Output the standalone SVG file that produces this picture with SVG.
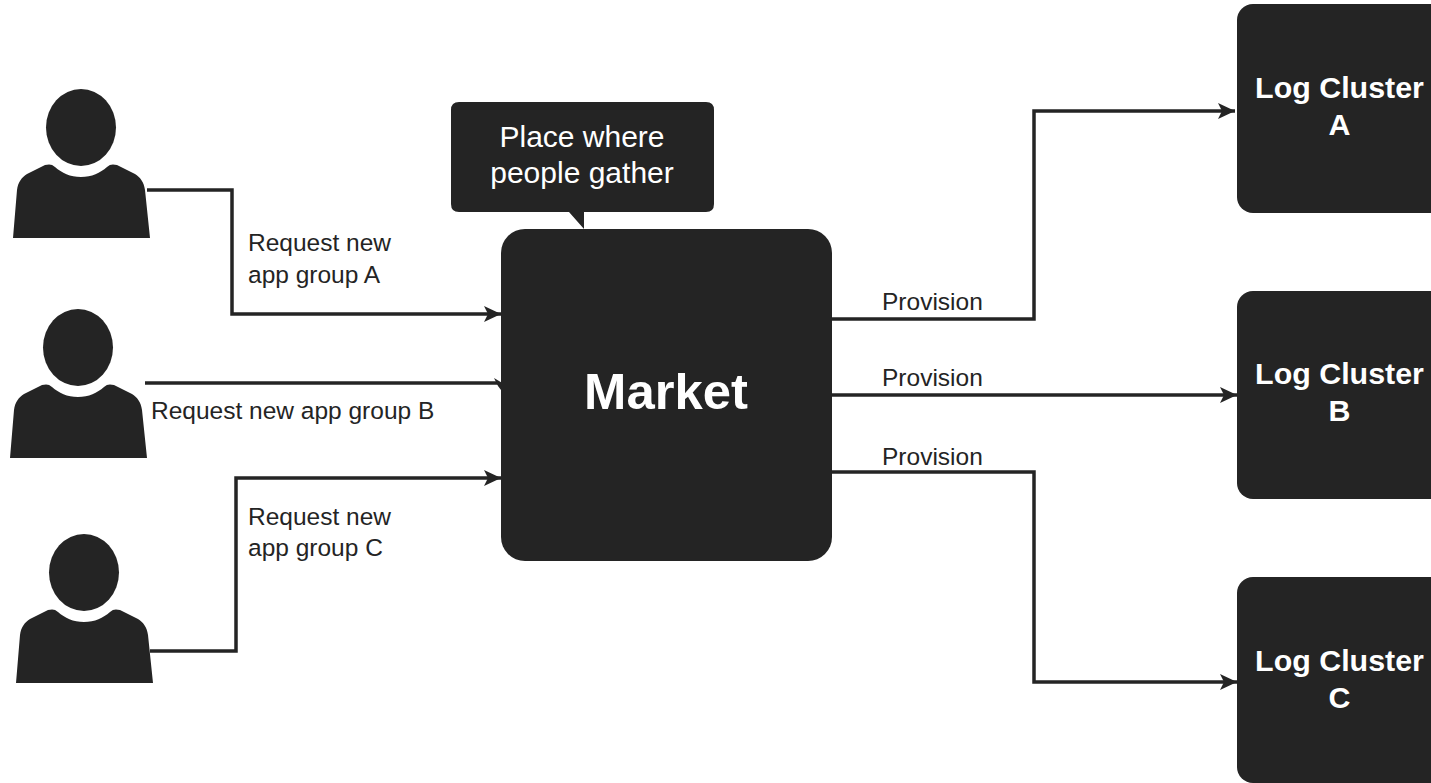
<svg xmlns="http://www.w3.org/2000/svg" width="1431" height="783" viewBox="0 0 1431 783">
<style>
text{font-family:"Liberation Sans",Arial,sans-serif}
.n{fill:#242424}
.c{fill:none;stroke:#242424;stroke-width:3.5}
.lb{font-size:24.5px;fill:#242424}
.cl{font-size:30.4px;font-weight:bold;fill:#fff;text-anchor:middle}
.ct{font-size:30px;fill:#fff;text-anchor:middle}
</style>
<defs>
<marker id="a" markerUnits="userSpaceOnUse" markerWidth="20" markerHeight="18" refX="17" refY="8" orient="auto"><path d="M0 0L17 8L0 16L4 8Z" fill="#242424"/></marker>
<g id="p"><ellipse cx="81" cy="127.5" rx="35" ry="38.5"/><path d="M13 238L17 190C18 182 22 177 27 174L45 165C49 164 52 164 55 167C62 173 70 177 81 177C92 177 100 173 107 167C110 164 113 164 117 165L135 174C140 177 144 182 145 190L150 238Z"/></g>
</defs>
<g id="connectors">
<path class="c" d="M147 190H232V314H501" marker-end="url(#a)"/>
<path class="c" d="M145 383H499"/>
<path d="M494 378L504 384V394L498 386Z" class="n"/>
<path class="c" d="M150 651H236V478H501" marker-end="url(#a)"/>
<path class="c" d="M832 319H1034V111H1235" marker-end="url(#a)"/>
<path class="c" d="M832 395H1237" marker-end="url(#a)"/>
<path class="c" d="M832 472H1034V682H1237" marker-end="url(#a)"/>
</g>
<g id="user-a" class="n"><use href="#p"/></g>
<g id="user-b" class="n"><use href="#p" x="-3" y="220"/></g>
<g id="user-c" class="n"><use href="#p" x="3" y="445"/></g>
<g id="callout"><path class="n" d="M459 102H706Q714 102 714 110V204Q714 212 706 212H584V229L569 212H459Q451 212 451 204V110Q451 102 459 102Z"/>
<text class="ct" x="582" y="147">Place where</text>
<text class="ct" x="582" y="183">people gather</text></g>
<g id="market"><rect class="n" x="501" y="229" width="331" height="332" rx="24"/>
<text x="666" y="409" font-size="50.8" font-weight="bold" fill="#fff" text-anchor="middle">Market</text></g>
<g id="cluster-a"><rect class="n" x="1237" y="4" width="220" height="209" rx="16"/><text class="cl" x="1339.5" y="98">Log Cluster</text><text class="cl" x="1339.5" y="135">A</text></g>
<g id="cluster-b"><rect class="n" x="1237" y="291" width="220" height="208" rx="16"/><text class="cl" x="1339.5" y="384">Log Cluster</text><text class="cl" x="1339.5" y="421">B</text></g>
<g id="cluster-c"><rect class="n" x="1237" y="577" width="220" height="206" rx="16"/><text class="cl" x="1339.5" y="671">Log Cluster</text><text class="cl" x="1339.5" y="708">C</text></g>
<g id="labels">
<text class="lb" x="248" y="251">Request new</text><text class="lb" x="248" y="283">app group A</text>
<text class="lb" x="151" y="419">Request new app group B</text>
<text class="lb" x="248" y="525">Request new</text><text class="lb" x="248" y="556">app group C</text>
<text class="lb" x="882" y="310">Provision</text><text class="lb" x="882" y="386">Provision</text><text class="lb" x="882" y="465">Provision</text>
</g>
</svg>
